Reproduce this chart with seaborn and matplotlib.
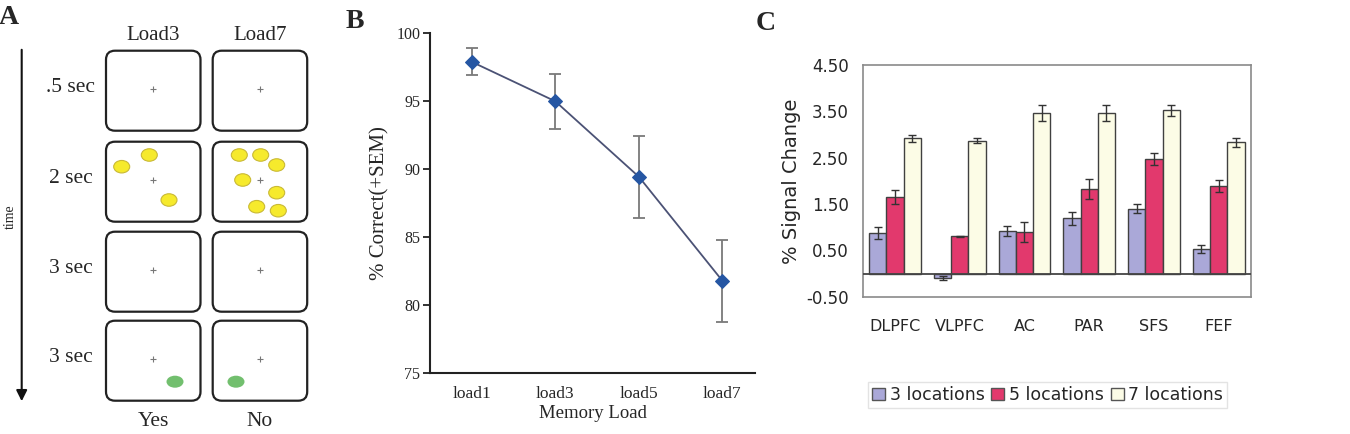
import numpy as np
import pandas as pd
import matplotlib
matplotlib.use("Agg")
import matplotlib.pyplot as plt
from matplotlib.patches import FancyBboxPatch, Ellipse
import seaborn as sns

sns.set_style("white")
plt.rcParams['font.family'] = ['DejaVu Sans']
SERIF = ['Liberation Serif', 'DejaVu Serif']

# ---- data ----
# panel A (task schematic)
load_cols = ['Load3', 'Load7']
phase_labels = ['.5 sec', '2 sec', '3 sec', '3 sec']
answers = ['Yes', 'No']
load3_dots = [(121.7, 166.7), (149.3, 155.0), (169.0, 200.0)]
load7_dots = [(239.3, 155.0), (260.7, 155.0), (276.7, 165.0), (242.7, 180.0),
              (276.7, 192.7), (256.7, 206.7), (278.3, 210.7)]
probe_dots = [(175.0, 381.7), (236.0, 381.7)]

# panel B (behaviour)
loads = ['load1', 'load3', 'load5', 'load7']
pct_correct = [97.9, 95.0, 89.45, 81.8]
pct_sem = [1.0, 2.0, 3.0, 3.0]

# panel C (fMRI signal change)
regions = ['DLPFC', 'VLPFC', 'AC', 'PAR', 'SFS', 'FEF']
conditions = ['3 locations', '5 locations', '7 locations']
sig_3 = [0.87, -0.09, 0.91, 1.19, 1.40, 0.53]
sig_5 = [1.65, 0.80, 0.89, 1.82, 2.48, 1.88]
sig_7 = [2.92, 2.87, 3.47, 3.46, 3.52, 2.83]
err_3 = [0.13, 0.04, 0.11, 0.14, 0.10, 0.08]
err_5 = [0.15, 0.02, 0.22, 0.22, 0.13, 0.13]
err_7 = [0.08, 0.05, 0.17, 0.17, 0.12, 0.09]
bar_colors = ['#aaa8d8', '#e2396d', '#fcfce6']

W, H = 1350, 434
fig = plt.figure(figsize=(W / 100, H / 100), dpi=100)


def px_axes(l, t, r, b):
    return fig.add_axes([l / W, 1 - b / H, (r - l) / W, (b - t) / H])


# ---------------- panel A ----------------
axA = px_axes(0, 0, 330, 434)
axA.set_xlim(0, 330)
axA.set_ylim(434, 0)
axA.axis('off')

col_x = [106, 212.7]
row_y = [50.7, 141.7, 231.7, 320.7]
bw, bh = 94.5, 80
for cx in col_x:
    for ry in row_y:
        axA.add_patch(FancyBboxPatch((cx, ry), bw, bh,
                                     boxstyle="round,pad=0,rounding_size=9",
                                     fc='white', ec='#222222', lw=1.6))
        axA.plot(cx + bw / 2, ry + bh / 2 - 1.5, marker='+', ms=5, mew=0.8, color='#777777')
for x, lab in zip(col_x, load_cols):
    axA.text(x + bw / 2, 35, lab, ha='center', va='center', fontsize=15, family=SERIF)
for x, lab in zip(col_x, answers):
    axA.text(x + bw / 2, 421, lab, ha='center', va='center', fontsize=15.5, family=SERIF)
for y, lab in zip(row_y, phase_labels):
    axA.text(71, y + bh / 2 - 3, lab, ha='center', va='center', fontsize=15.5, family=SERIF)
for x, y in load3_dots + load7_dots:
    axA.add_patch(Ellipse((x, y), 16, 12.5, fc='#f6ea2c', ec='#c9b935', lw=0.8))
for x, y in probe_dots:
    axA.add_patch(Ellipse((x, y), 17, 12, fc='#72bf6e', ec='none'))
axA.annotate('', xy=(21.7, 404), xytext=(21.7, 47),
             arrowprops=dict(arrowstyle='-|>', lw=1.5, color='#111111', mutation_scale=16))
axA.text(10, 217, 'time', rotation=90, ha='center', va='center', fontsize=10, family=SERIF)
axA.text(9, 18, 'A', ha='center', va='center', fontsize=20, fontweight='bold', family=SERIF)

# ---------------- panel B ----------------
axB = px_axes(430, 33.3, 755, 373.3)
sns.lineplot(x=loads, y=pct_correct, sort=False, ax=axB, color='#4b5275', lw=1.3,
             marker='D', markersize=7, markerfacecolor='#2556a3', markeredgecolor='#2556a3')
axB.errorbar(loads, pct_correct, yerr=pct_sem, fmt='none', ecolor='#7a7a7a',
             elinewidth=1.3, capsize=4, capthick=1.3, zorder=1)
axB.set_ylim(75, 100)
axB.set_xlim(-0.5, 3.39)
axB.set_yticks(np.arange(75, 101, 5))
axB.set_xticks(range(len(loads)))
axB.set_xticklabels(loads, family=SERIF, fontsize=12.5)
axB.set_xticks([0.5, 1.5, 2.5], minor=True)
axB.tick_params(axis='x', which='major', length=0, pad=9)
axB.tick_params(axis='x', which='minor', length=4, width=1.5, direction='out', color='#222222')
axB.tick_params(axis='y', length=5, width=1.3, direction='out', left=True, pad=2, color='#222222')
for t in axB.get_yticklabels():
    t.set_family(SERIF)
    t.set_fontsize(11.5)
for s in ['top', 'right']:
    axB.spines[s].set_visible(False)
for s in ['left', 'bottom']:
    axB.spines[s].set_color('#222222')
    axB.spines[s].set_linewidth(1.5)
axB.set_xlabel('Memory Load', family=SERIF, fontsize=13.5, labelpad=2)
axB.set_ylabel('% Correct(+SEM)', family=SERIF, fontsize=15, labelpad=5)
axB.patch.set_alpha(0)
fig.text(355 / W, 1 - 22 / H, 'B', ha='center', va='center', fontsize=20, fontweight='bold', family=SERIF)

# ---------------- panel C ----------------
axC = px_axes(862.7, 65, 1251, 296.7)
df = pd.DataFrame({
    'region': regions * 3,
    'condition': np.repeat(conditions, len(regions)),
    'value': sig_3 + sig_5 + sig_7,
})
sns.barplot(data=df, x='region', y='value', hue='condition', palette=bar_colors,
            saturation=1, errorbar=None, width=0.8, edgecolor='#404040', linewidth=1.0,
            ax=axC, legend=True)
for cont, vals, errs in zip(axC.containers, [sig_3, sig_5, sig_7], [err_3, err_5, err_7]):
    xs = [p.get_x() + p.get_width() / 2 for p in cont.patches]
    axC.errorbar(xs, vals, yerr=errs, fmt='none', ecolor='#333333', elinewidth=1.0,
                 capsize=3, capthick=1.0, zorder=3)
axC.axhline(0, color='#444444', lw=1.3, zorder=4)
axC.set_ylim(-0.5, 4.5)
axC.set_xlim(-0.5, 5.5)
yt = np.arange(-0.5, 4.51, 1.0)
axC.set_yticks(yt)
axC.set_yticklabels([f'{v:.2f}' for v in yt], fontsize=12)
axC.tick_params(axis='y', length=0, pad=10)
axC.tick_params(axis='x', length=0, pad=16, labelsize=11.5)
for s in axC.spines.values():
    s.set_visible(True)
    s.set_color('#8a8a8a')
    s.set_linewidth(1.2)
axC.set_xlabel('')
axC.set_ylabel('% Signal Change', fontsize=14, labelpad=4)
leg = axC.legend(loc='center', bbox_to_anchor=((868 + 1227) / 2 / W, 1 - 395 / H),
                 bbox_transform=fig.transFigure, ncol=3, fontsize=12.5,
                 handlelength=0.75, handleheight=0.75, handletextpad=0.25,
                 columnspacing=0.4, borderpad=0.25, fancybox=False, frameon=True)
leg.get_frame().set_edgecolor('#dddddd')
leg.get_frame().set_linewidth(1.0)
for h in leg.legend_handles:
    h.set_edgecolor('#555555')
fig.text(766 / W, 1 - 23 / H, 'C', ha='center', va='center', fontsize=20, fontweight='bold', family=SERIF)

fig.savefig('out.png', dpi=100)
